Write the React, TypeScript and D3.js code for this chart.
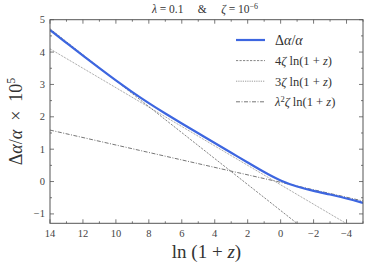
import React from 'react';
import * as d3 from 'd3';

// Δα/α × 10^5 at each integer ln(1+z)
const lnz = [14, 13, 12, 11, 10, 9, 8, 7, 6, 5, 4, 3, 2, 1, 0, -1, -2, -3, -4, -5];
const deltaAlpha = [4.68, 4.28, 3.89, 3.5, 3.12, 2.76, 2.42, 2.1, 1.79, 1.49, 1.19, 0.89, 0.59, 0.29, 0.02, -0.16, -0.29, -0.4, -0.52, -0.66];

// straight reference lines, end points
const line4Zeta: [number, number][] = [[14, 4.72], [-5, -2.9]];
const line3Zeta: [number, number][] = [[14, 4.1], [-5, -1.6]];
const lineLambda2Zeta: [number, number][] = [[14, 1.59], [-5, -0.6]];

const xTicks = [14, 12, 10, 8, 6, 4, 2, 0, -2, -4];
const yTicks = [-1, 0, 1, 2, 3, 4, 5];

const W = 368;
const H = 274;
const margin = { top: 19.7, right: 5, bottom: 50.7, left: 50 };

const serif = '"Liberation Serif", "DejaVu Serif", serif';

const fmt = (v: number) => (v < 0 ? '\u2212' + Math.abs(v) : String(v));

export default function App() {
  const x = d3.scaleLinear().domain([14, -5]).range([margin.left, W - margin.right]);
  const y = d3.scaleLinear().domain([-1.29, 5]).range([H - margin.bottom, margin.top]);

  const [x0, x1] = x.range();
  const [yb, yt] = y.range();

  const mainLine = d3
    .line<number>()
    .x((_, i) => x(lnz[i]))
    .y((d) => y(d))
    .curve(d3.curveBasis);

  const straight = d3
    .line<[number, number]>()
    .x((d) => x(d[0]))
    .y((d) => y(d[1]));

  const minorX = d3.range(14, -5.01, -1);
  const minorY = d3.range(-1, 5.01, 0.5);
  const frame = '#555';

  const legendRows = [
    { dash: '', color: '#3d66e0', width: 2.2, label: 'main' },
    { dash: '2.2,1.3', color: '#777', width: 0.9, label: '4' },
    { dash: '0.8,1', color: '#777', width: 0.9, label: '3' },
    { dash: '4,1.5,1,1.5', color: '#666', width: 0.9, label: 'l' },
  ];

  return (
    <div style={{ position: 'absolute', left: 0, top: 0 }}>
      <svg width={W} height={H} style={{ display: 'block', background: '#fff' }}>
        <defs>
          <clipPath id="plot">
            <rect x={x0} y={yt} width={x1 - x0} height={yb - yt} />
          </clipPath>
        </defs>

        {/* title */}
        <text x={205} y={13} textAnchor="middle" fontFamily={serif} fontSize={11.5} fill="#333" style={{ whiteSpace: 'pre' }}>
          <tspan fontStyle="italic">λ</tspan>
          <tspan>{' = 0.1     &     '}</tspan>
          <tspan fontStyle="italic">ζ</tspan>
          <tspan>{' = 10'}</tspan>
          <tspan dy={-4} fontSize={8}>−6</tspan>
        </text>

        {/* lines */}
        <g clipPath="url(#plot)" fill="none">
          <path d={straight(lineLambda2Zeta) ?? ''} stroke="#666" strokeWidth={0.9} strokeDasharray="4,1.5,1,1.5" />
          <path d={straight(line3Zeta) ?? ''} stroke="#777" strokeWidth={0.9} strokeDasharray="0.8,1" />
          <path d={straight(line4Zeta) ?? ''} stroke="#777" strokeWidth={0.9} strokeDasharray="2.2,1.3" />
          <path d={mainLine(deltaAlpha) ?? ''} stroke="#3d66e0" strokeWidth={2.2} />
        </g>

        {/* frame */}
        <rect x={x0} y={yt} width={x1 - x0} height={yb - yt} fill="none" stroke={frame} strokeWidth={1} />

        {/* x ticks */}
        {minorX.map((v) => {
          const major = xTicks.includes(v);
          const len = major ? 4 : 2;
          return (
            <g key={'x' + v} stroke={frame} strokeWidth={0.8}>
              <line x1={x(v)} x2={x(v)} y1={yb} y2={yb - len} />
              <line x1={x(v)} x2={x(v)} y1={yt} y2={yt + len} />
            </g>
          );
        })}
        {xTicks.map((v) => (
          <text key={'xl' + v} x={x(v)} y={yb + 14} textAnchor="middle" fontFamily={serif} fontSize={10.5} fill="#444">
            {fmt(v)}
          </text>
        ))}

        {/* y ticks */}
        {minorY.map((v) => {
          const major = yTicks.includes(v);
          const len = major ? 4 : 2;
          return (
            <g key={'y' + v} stroke={frame} strokeWidth={0.8}>
              <line x1={x0} x2={x0 + len} y1={y(v)} y2={y(v)} />
              <line x1={x1} x2={x1 - len} y1={y(v)} y2={y(v)} />
            </g>
          );
        })}
        {yTicks.map((v) => (
          <text key={'yl' + v} x={x0 - 5} y={y(v) + 3.5} textAnchor="end" fontFamily={serif} fontSize={10.5} fill="#444">
            {fmt(v)}
          </text>
        ))}

        {/* axis labels */}
        <text x={(x0 + x1) / 2} y={258} textAnchor="middle" fontFamily={serif} fontSize={19} fill="#333" style={{ whiteSpace: 'pre' }}>
          <tspan>{'ln (1 + '}</tspan>
          <tspan fontStyle="italic">z</tspan>
          <tspan>)</tspan>
        </text>
        <text
          transform={`translate(22,${(yt + yb) / 2}) rotate(-90)`}
          textAnchor="middle"
          fontFamily={serif}
          fontSize={18}
          fill="#333"
          style={{ whiteSpace: 'pre' }}
        >
          <tspan>Δ</tspan>
          <tspan fontStyle="italic">α</tspan>
          <tspan>/</tspan>
          <tspan fontStyle="italic">α</tspan>
          <tspan>{'  ×  10'}</tspan>
          <tspan dy={-7} fontSize={12}>5</tspan>
        </text>

        {/* legend */}
        {legendRows.map((r, i) => {
          const ly = 40 + i * 20.6;
          return (
            <g key={'lg' + i}>
              <line x1={236} x2={265} y1={ly} y2={ly} stroke={r.color} strokeWidth={r.width} strokeDasharray={r.dash} />
              <text x={275} y={ly + 4.5} fontFamily={serif} fontSize={i === 0 ? 14 : 12.5} fill="#333" style={{ whiteSpace: 'pre' }}>
                {r.label === 'main' ? (
                  <>
                    <tspan>Δ</tspan>
                    <tspan fontStyle="italic">α</tspan>
                    <tspan>/</tspan>
                    <tspan fontStyle="italic">α</tspan>
                  </>
                ) : (
                  <>
                    {r.label === 'l' ? (
                      <>
                        <tspan fontStyle="italic">λ</tspan>
                        <tspan dy={-4} fontSize={8.5}>2</tspan>
                        <tspan dy={4} fontStyle="italic">ζ</tspan>
                      </>
                    ) : (
                      <>
                        <tspan>{r.label}</tspan>
                        <tspan fontStyle="italic">ζ</tspan>
                      </>
                    )}
                    <tspan>{' ln(1 + '}</tspan>
                    <tspan fontStyle="italic">z</tspan>
                    <tspan>)</tspan>
                  </>
                )}
              </text>
            </g>
          );
        })}
      </svg>
    </div>
  );
}
